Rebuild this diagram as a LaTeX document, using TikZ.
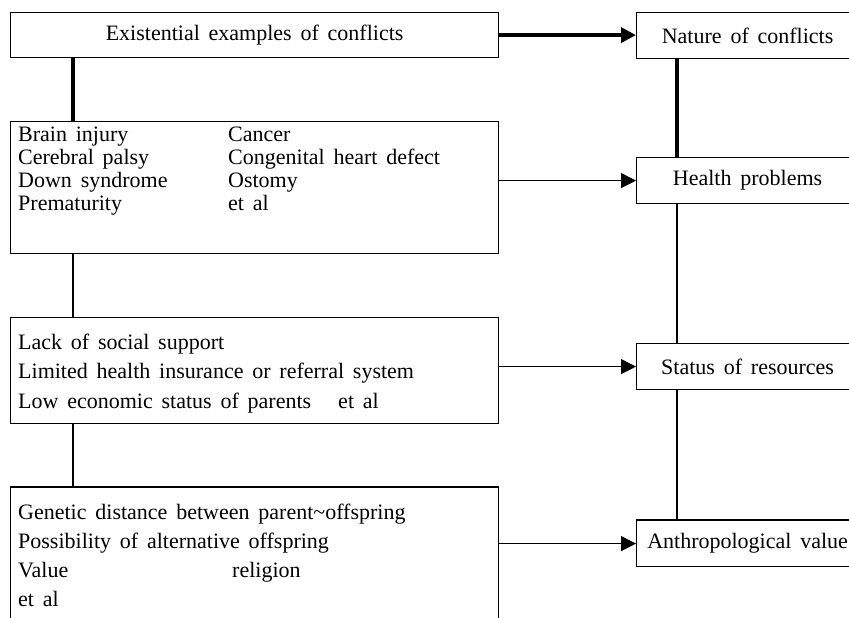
\documentclass[tikz,border=0pt]{standalone}
\usepackage{fontspec}
\setmainfont{Liberation Serif}[WordSpace=1.6]
\usetikzlibrary{arrows.meta,calc}
\begin{document}
\begin{tikzpicture}[x=1pt,y=-1pt,
  txt/.style={font=\fontsize{22}{24}\selectfont},
  box/.style={draw,line width=1.2pt,inner sep=0pt,anchor=north west,txt},
  leftbox/.style={box,minimum width=488pt},
  rightbox/.style={box,minimum width=222pt,minimum height=46pt},
  listtext/.style={inner sep=0pt,anchor=base west},
  thickline/.style={line width=3.5pt},
  thinline/.style={line width=1.2pt},
  tip/.style={-{Triangle[length=15pt,width=15pt]}},
  thickarrow/.style={thickline,tip},
  thinarrow/.style={thinline,tip}]
\useasboundingbox (0,0) rectangle (849,618);
\clip (0,0) rectangle (849,618);

% left boxes
\node[leftbox,minimum height=45pt] (b1) at (10,12) {Existential examples of conflicts};
\node[leftbox,minimum height=132pt] (b2) at (10,121) {};
\node[leftbox,minimum height=106pt] (b3) at (10,317) {};
\node[leftbox,minimum height=150pt] (b4) at (10,487) {};

% texts inside left boxes
\node[listtext,font=\fontsize{22}{23}\selectfont] (t2) at (18,141)
  {\begin{tabular}[t]{@{}p{210pt}@{}l@{}}
   Brain injury & Cancer\\
   Cerebral palsy & Congenital heart defect\\
   Down syndrome & Ostomy\\
   Prematurity & et al
   \end{tabular}};
\node[listtext,font=\fontsize{22}{29.5}\selectfont] (t3) at (18,349)
  {\begin{tabular}[t]{@{}l@{}}
   Lack of social support\\
   Limited health insurance or referral system\\
   Low economic status of parents\hspace{27pt}et al
   \end{tabular}};
\node[listtext,font=\fontsize{22}{29.3}\selectfont] (t4) at (18,519)
  {\begin{tabular}[t]{@{}p{214pt}@{}l@{}}
   \multicolumn{2}{@{}l@{}}{Genetic distance between parent\textasciitilde offspring}\\
   \multicolumn{2}{@{}l@{}}{Possibility of alternative offspring}\\
   Value & religion\\
   et al &
   \end{tabular}};

% right boxes
\node[rightbox] (r1) at (636,12) {Nature of conflicts};
\node[rightbox] (r2) at (636,157) {Health problems};
\node[rightbox] (r3) at (636,343) {Status of resources};
\node[rightbox] (r4) at (636,520) {Anthropological value};

% heavier top edges, as in the reference
\draw[line width=2.4pt] (b4.north west) -- (b4.north east);
\draw[line width=2.4pt] (r4.north west) -- (r4.north east);

% vertical connectors
\coordinate (L) at (73,0);
\coordinate (R) at (677,0);
\draw[thickline] (b1.south -| L) -- (b2.north -| L);
\draw[thinline] (b2.south -| L) -- (b3.north -| L);
\draw[thinline] (b3.south -| L) -- (b4.north -| L);
\draw[thickline] (r1.south -| R) -- (r2.north -| R);
\draw[thinline] (r2.south -| R) -- (r3.north -| R);
\draw[thinline] (r3.south -| R) -- (r4.north -| R);

% horizontal arrows
\draw[thickarrow] (b1.east) -- (b1.east -| r1.west);
\draw[thinarrow] (b2.east |- r2.west) -- (r2.west);
\draw[thinarrow] (b3.east |- r3.west) -- (r3.west);
\draw[thinarrow] (b4.east |- r4.west) -- (r4.west);
\end{tikzpicture}
\end{document}
